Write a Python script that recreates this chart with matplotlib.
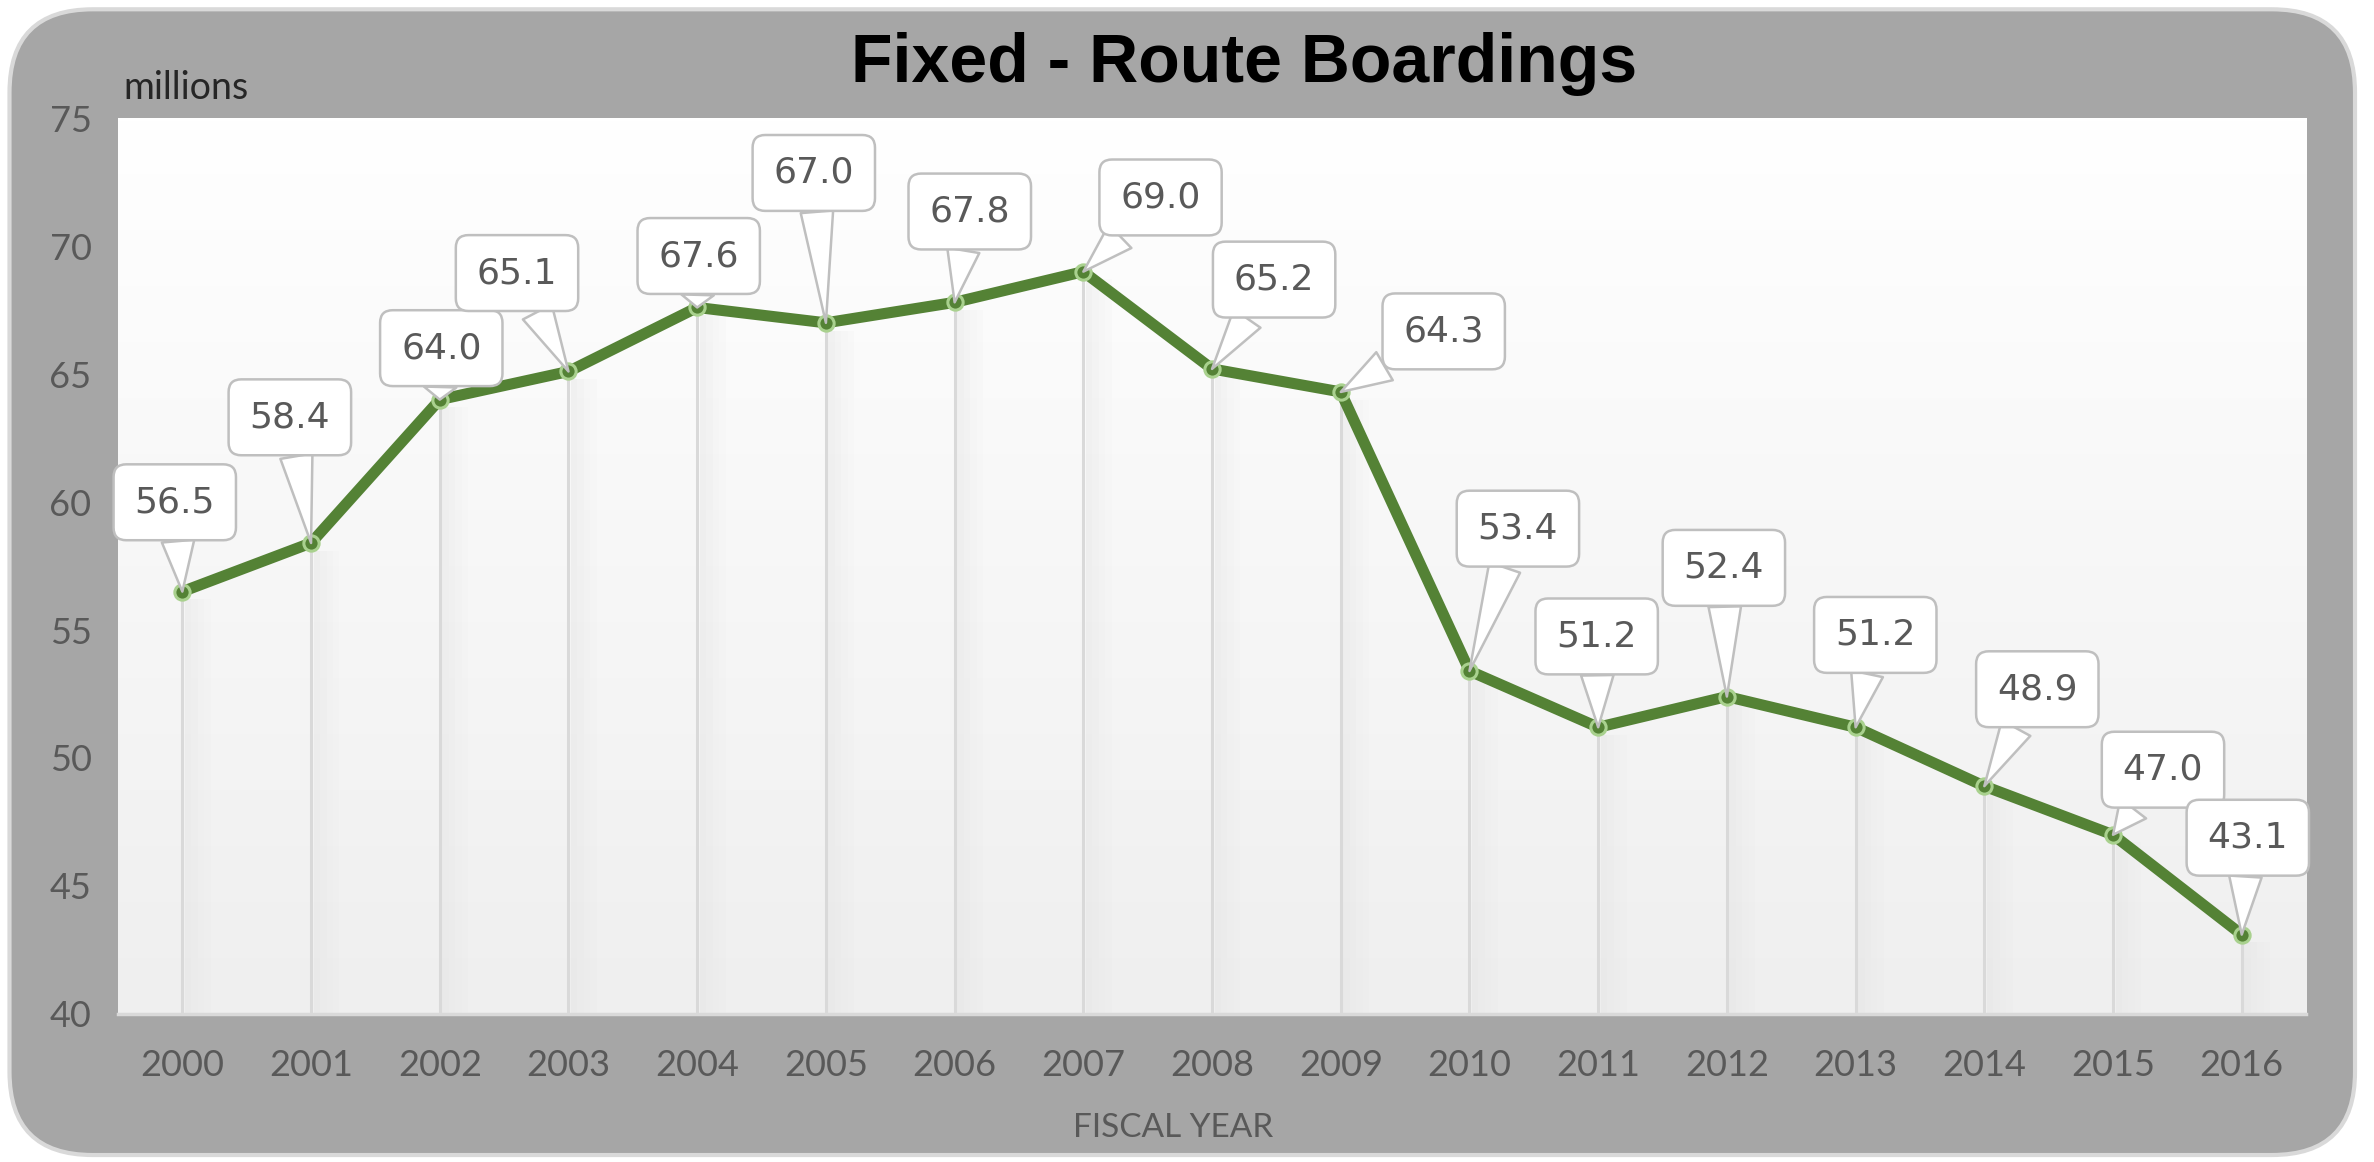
import numpy as np
import matplotlib.pyplot as plt
from matplotlib.patches import FancyBboxPatch
from matplotlib.colors import LinearSegmentedColormap

# data
years = ['2000', '2001', '2002', '2003', '2004', '2005', '2006', '2007', '2008',
         '2009', '2010', '2011', '2012', '2013', '2014', '2015', '2016']
boardings = [56.5, 58.4, 64.0, 65.1, 67.6, 67.0, 67.8, 69.0, 65.2,
             64.3, 53.4, 51.2, 52.4, 51.2, 48.9, 47.0, 43.1]

# callout box offsets from each point (pixels of the shrunk view, right/up)
offsets = [(-5, 59), (-14, 83), (1, 34), (-34, 65), (1, 34), (-8, 99),
           (10, 60), (51, 49), (41, 59), (68, 40), (32, 94), (-1, 60),
           (-2, 85), (13, 61), (35, 64), (33, 43), (4, 64)]

gray_txt = '#595959'
green = '#548235'

fig = plt.figure(figsize=(23.74, 11.62), dpi=100)
fig.patch.set_facecolor('white')

# outer rounded frame
frame = FancyBboxPatch((0.004, 0.006), 0.988, 0.986,
                       boxstyle='round,pad=0,rounding_size=0.035',
                       transform=fig.transFigure, fc='#a6a6a6', ec='#d9d9d9',
                       lw=3, mutation_aspect=2374 / 1162, zorder=-10)
fig.add_artist(frame)

ax = fig.add_axes([0.0497, 0.1274, 0.9217, 0.771])
ax.set_zorder(1)
ax.set_facecolor('none')
x = np.arange(len(years))

ax.set_xlim(-0.5, len(years) - 0.5)
ax.set_ylim(40, 75)

# background gradient
cmap = LinearSegmentedColormap.from_list('bg', ['#ffffff', '#efefef'])
grad = np.linspace(0, 1, 256).reshape(-1, 1)
ax.imshow(grad, extent=[-0.5, len(years) - 0.5, 40, 75], cmap=cmap,
          aspect='auto', zorder=0, origin='upper')

# drop lines with soft shadow
for xi, v in zip(x, boardings):
    for k, a in enumerate([0.35, 0.25, 0.15, 0.08]):
        ax.fill_betweenx([40, v - 0.3], xi + 0.02 + k * 0.05, xi + 0.07 + k * 0.05,
                         color='#e0e0e0', alpha=a, lw=0, zorder=1)
ax.vlines(x, 40, boardings, color='#d9d9d9', lw=2.2, zorder=2)

ax.plot(x, boardings, color=green, lw=8, zorder=4, solid_capstyle='round',
        marker='o', ms=11, mfc=green, mec='#a9d18e', mew=2.2)

for xi, v, (dx, dy) in zip(x, boardings, offsets):
    ax.annotate(f'{v:.1f}', xy=(xi, v), xytext=(dx * 1.514, dy * 1.514),
                textcoords='offset pixels', ha='center', va='center',
                fontsize=26, color=gray_txt, family='DejaVu Sans', zorder=6,
                bbox=dict(boxstyle='round,pad=0.58,rounding_size=0.35', fc='white',
                          ec='#bfbfbf', lw=1.8),
                arrowprops=dict(arrowstyle='wedge,tail_width=0.9,shrink_factor=0.5',
                                fc='white', ec='#bfbfbf', lw=1.8, shrinkA=0, shrinkB=0))

for s in ['top', 'right', 'left']:
    ax.spines[s].set_visible(False)
ax.spines['bottom'].set_color('#d9d9d9')
ax.spines['bottom'].set_linewidth(2.5)

ax.set_xticks(x)
ax.set_xticklabels(years)
ax.set_yticks(np.arange(40, 80, 5))
ax.tick_params(length=0, colors=gray_txt, labelsize=26)
ax.tick_params(axis='x', pad=25)
ax.tick_params(axis='y', pad=19)
for lab in ax.get_xticklabels() + ax.get_yticklabels():
    lab.set_family('Lato')

fig.text(0.524, 0.945, 'Fixed - Route Boardings', ha='center', va='center',
         fontsize=49, fontweight='bold', family='Liberation Sans', color='black')
fig.text(0.052, 0.924, 'millions', ha='left', va='center', fontsize=27,
         family='Lato', color='#262626')
fig.text(0.494, 0.029, 'FISCAL YEAR', ha='center', va='center', fontsize=24,
         family='Lato', color=gray_txt)

fig.savefig('out.png', dpi=100)
